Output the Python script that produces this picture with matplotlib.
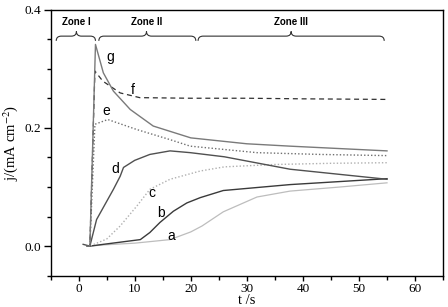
import matplotlib
matplotlib.use("Agg")
import matplotlib.pyplot as plt
from matplotlib.path import Path
from matplotlib.patches import PathPatch
from matplotlib.ticker import MultipleLocator
import numpy as np

plt.rcParams['font.family'] = ['Liberation Serif', 'DejaVu Serif']
plt.rcParams['mathtext.fontset'] = 'stix'

# curves (t in s, j in mA cm-2)
t_a = [1.5, 2, 4.4, 10, 16.3, 20, 22, 25.8, 31.8, 37.7, 46.7, 55]
j_a = [0, 0, 0.002, 0.005, 0.011, 0.024, 0.034, 0.058, 0.083, 0.093, 0.100, 0.107]

t_b = [1.5, 2, 4.4, 11, 12.7, 14.5, 16.9, 19.3, 21.7, 25.8, 37.7, 55]
j_b = [0, 0, 0.003, 0.011, 0.023, 0.040, 0.059, 0.073, 0.082, 0.094, 0.104, 0.114]

t_c = [1.5, 2, 5, 7.4, 10.4, 12.7, 16.3, 21.7, 26, 35, 45, 55]
j_c = [0, 0, 0.012, 0.034, 0.068, 0.096, 0.113, 0.127, 0.134, 0.138, 0.140, 0.141]

t_d = [0.8, 2, 3.2, 6.2, 7.4, 8, 10, 12.7, 16.3, 19.9, 26, 37.7, 55]
j_d = [0.003, 0, 0.045, 0.096, 0.118, 0.133, 0.145, 0.155, 0.161, 0.158, 0.151, 0.130, 0.113]

t_e = [1.5, 2, 2.9, 5.2, 10.4, 16.3, 19.9, 31.8, 43, 55]
j_e = [0, 0, 0.206, 0.214, 0.197, 0.180, 0.169, 0.158, 0.155, 0.153]

t_f = [1.5, 2, 2.9, 4.3, 7.4, 10.9, 20, 30, 40, 55]
j_f = [0, 0, 0.296, 0.279, 0.259, 0.251, 0.250, 0.250, 0.249, 0.248]

t_g = [1.5, 2, 3, 4.4, 6.2, 9.2, 13.3, 20, 30, 37.7, 55]
j_g = [0, 0, 0.341, 0.293, 0.262, 0.231, 0.203, 0.183, 0.173, 0.169, 0.161]

curve_labels = ['a', 'b', 'c', 'd', 'e', 'f', 'g']
label_pos = [(16.5, 0.017), (14.7, 0.056), (13.0, 0.089), (6.5, 0.131),
             (4.9, 0.229), (9.7, 0.264), (5.6, 0.319)]

zones = ['Zone I', 'Zone II', 'Zone III']
zone_span = [(-4.0, 3.0), (3.6, 20.9), (21.3, 54.5)]
zone_mid = [-0.4, 12.1, 37.9]

fig = plt.figure(figsize=(4.48, 3.07), dpi=100)
ax = fig.add_axes([0.113, 0.102, 0.876, 0.867])

ax.plot(t_a, j_a, color='#bdbdbd', lw=0.9)
ax.plot(t_b, j_b, color='#3a3a3a', lw=1.0)
ax.plot(t_c, j_c, color='#b0b0b0', lw=1.0, ls=(0, (1, 1.5)))
ax.plot(t_d, j_d, color='#505050', lw=1.0)
ax.plot(t_e, j_e, color='#707070', lw=1.0, ls=(0, (1, 1.5)))
ax.plot(t_f, j_f, color='#303030', lw=0.9, ls=(0, (4, 3)))
ax.plot(t_g, j_g, color='#7a7a7a', lw=1.0)

for lab, (x, y) in zip(curve_labels, label_pos):
    ax.text(x, y, lab, family='Liberation Sans', fontsize=10,
            ha='center', va='center')


def brace(x0, x1, xm, y, h, w=0.9):
    verts = [(x0, y - h), (x0, y), (x0 + w, y),
             (xm - w, y), (xm, y), (xm, y + h),
             (xm, y), (xm + w, y),
             (x1 - w, y), (x1, y), (x1, y - h)]
    codes = [Path.MOVETO, Path.CURVE3, Path.CURVE3,
             Path.LINETO, Path.CURVE3, Path.CURVE3,
             Path.CURVE3, Path.CURVE3,
             Path.LINETO, Path.CURVE3, Path.CURVE3]
    ax.add_patch(PathPatch(Path(verts, codes), fill=False,
                           ec='#333333', lw=0.8))


for name, (x0, x1), xm in zip(zones, zone_span, zone_mid):
    brace(x0, x1, xm, 0.355, 0.008)
    ax.text(xm, 0.379, name, family='Liberation Sans', fontweight='bold',
            fontsize=7, ha='center', va='center')

ax.set_xlim(-5, 65)
ax.set_ylim(-0.05, 0.4)
ax.xaxis.set_major_locator(MultipleLocator(10))
ax.xaxis.set_minor_locator(MultipleLocator(5))
ax.yaxis.set_major_locator(MultipleLocator(0.2))
ax.yaxis.set_minor_locator(MultipleLocator(0.05))
ax.yaxis.set_major_formatter(matplotlib.ticker.FormatStrFormatter('%.1f'))
ax.tick_params(axis='x', which='major', length=3.5, width=1, labelsize=9.5, pad=2)
ax.tick_params(axis='x', which='minor', length=3, width=1)
ax.tick_params(axis='y', which='major', length=5, width=1, labelsize=9.5, pad=2)
ax.tick_params(axis='y', which='minor', length=3, width=1)
for s in ax.spines.values():
    s.set_linewidth(1.0)

ax.set_xlabel('t /s', fontsize=10.5, labelpad=-1)
ax.set_ylabel('j/(mA cm$^{-2}$)', fontsize=10.5, labelpad=3)

fig.savefig('out.png', dpi=100)
